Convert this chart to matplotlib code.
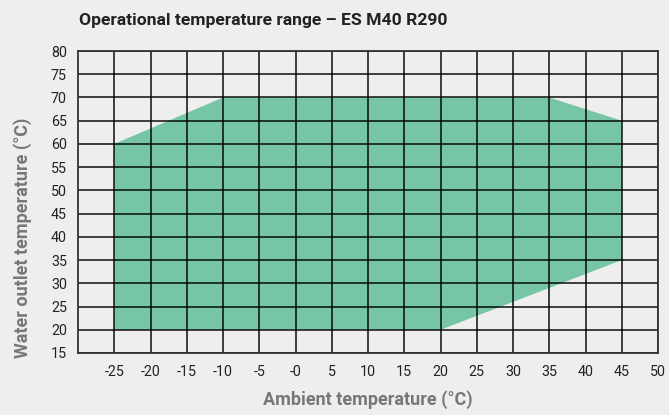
import matplotlib
matplotlib.use("Agg")
import matplotlib.pyplot as plt

# operating envelope (ambient °C, water outlet °C)
ambient = [-25, -25, -10, 35, 45, 45, 20]
outlet = [20, 60, 70, 70, 65, 35, 20]
xticks = [-25, -20, -15, -10, -5, 0, 5, 10, 15, 20, 25, 30, 35, 40, 45, 50]
xlabels = ["-25", "-20", "-15", "-10", "-5", "-0", "5", "10", "15", "20",
           "25", "30", "35", "40", "45", "50"]
yticks = list(range(15, 85, 5))

BG = "#EDEEED"
plt.rcParams.update({"font.family": ["Roboto", "DejaVu Sans"], "font.size": 10})

fig = plt.figure(figsize=(6.69, 4.15), dpi=100, facecolor=BG)
ax = fig.add_axes([0.1166, 0.1494, 0.867, 0.7276], facecolor=BG)

ax.fill(ambient, outlet, color="#76C6A5", lw=0, zorder=1)

for x in xticks:
    ax.axvline(x, color="black", lw=1.3, alpha=0.8, zorder=2)
for y in yticks:
    ax.axhline(y, color="black", lw=1.3, alpha=0.8, zorder=2)

ax.set_xlim(-30, 50)
ax.set_ylim(15, 80)
ax.set_xticks(xticks)
ax.set_xticklabels(xlabels)
ax.set_yticks(yticks)
ax.tick_params(length=0, labelsize=10.3, colors="#222222")
ax.tick_params(axis="x", pad=9)
ax.tick_params(axis="y", pad=8)
for sp in ax.spines.values():
    sp.set_color("#333333")
    sp.set_linewidth(1.3)
    sp.set_zorder(3)

fig.text(368 / 669, 1 - 400 / 415, "Ambient temperature (°C)", fontsize=13,
         fontweight="bold", color="#777777", ha="center", va="center")
fig.text(23 / 669, 1 - 238 / 415, "Water outlet temperature (°C)", fontsize=13,
         fontweight="bold", color="#777777", ha="center", va="center",
         rotation=90)
fig.text(0.118, 0.95, "Operational temperature range – ES M40 R290",
         fontsize=12.6, fontweight="bold", color="#222222", va="center", ha="left")

fig.savefig("out.png", dpi=100, facecolor=BG)
